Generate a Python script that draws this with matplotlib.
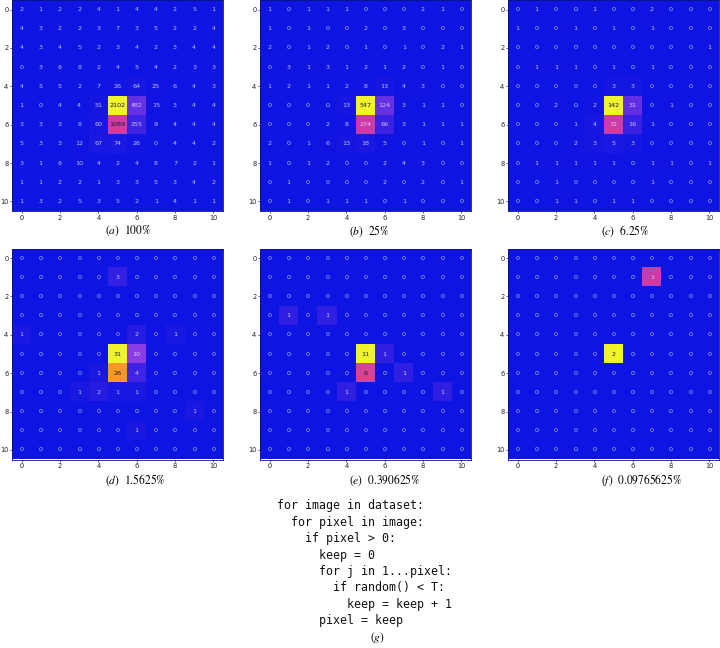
# -*- coding: utf-8 -*-
"""
Seis mapas de calor 11x11 (submuestreo de pixeles con probabilidad T)
mas el pseudocodigo del procedimiento.
"""

import numpy as np
import matplotlib
matplotlib.use("Agg")
import matplotlib.pyplot as plt
from matplotlib.colors import LinearSegmentedColormap

plt.rcParams["mathtext.fontset"] = "stix"

FIG_W, FIG_H, DPI = 7.2, 6.48, 100

# ---- datos ----
grid_a = [
    [2, 1, 2, 2, 4, 1, 4, 4, 2, 5, 1],
    [4, 3, 2, 2, 3, 7, 3, 5, 2, 2, 4],
    [4, 3, 4, 5, 2, 3, 4, 2, 3, 4, 4],
    [0, 3, 6, 8, 2, 4, 5, 4, 2, 3, 3],
    [4, 5, 5, 2, 7, 26, 64, 25, 6, 4, 3],
    [1, 0, 4, 4, 51, 2102, 482, 15, 3, 4, 4],
    [3, 3, 3, 8, 60, 1089, 255, 9, 4, 4, 4],
    [5, 3, 3, 12, 67, 74, 26, 0, 4, 4, 2],
    [3, 1, 6, 10, 4, 2, 4, 8, 7, 2, 1],
    [1, 1, 2, 2, 1, 3, 3, 5, 3, 4, 2],
    [1, 3, 2, 5, 3, 5, 2, 1, 4, 1, 1],
]
grid_b = [
    [1, 0, 1, 1, 1, 0, 0, 0, 2, 1, 0],
    [1, 0, 1, 0, 0, 2, 0, 3, 0, 0, 0],
    [2, 0, 1, 2, 0, 1, 0, 1, 0, 2, 1],
    [0, 3, 1, 3, 1, 2, 1, 2, 0, 1, 0],
    [1, 2, 1, 1, 2, 8, 13, 4, 3, 0, 0],
    [0, 0, 0, 0, 13, 547, 124, 3, 1, 1, 0],
    [0, 0, 0, 2, 8, 274, 66, 3, 1, 1, 1],
    [2, 0, 1, 6, 13, 18, 5, 0, 1, 0, 1],
    [1, 0, 1, 2, 0, 0, 2, 4, 3, 0, 0],
    [0, 1, 0, 0, 0, 0, 2, 0, 2, 0, 1],
    [0, 1, 0, 1, 1, 1, 0, 1, 0, 0, 0],
]
grid_c = [
    [0, 1, 0, 0, 1, 0, 0, 2, 0, 0, 0],
    [1, 0, 0, 1, 0, 1, 0, 1, 0, 0, 0],
    [0, 0, 0, 0, 0, 0, 0, 0, 0, 0, 1],
    [0, 1, 1, 1, 0, 1, 0, 1, 0, 0, 0],
    [0, 0, 0, 0, 0, 3, 3, 0, 0, 0, 0],
    [0, 0, 2, 0, 2, 142, 31, 0, 1, 0, 0],
    [0, 0, 0, 1, 4, 72, 16, 1, 0, 0, 0],
    [0, 0, 0, 2, 3, 5, 3, 0, 0, 0, 0],
    [0, 1, 1, 1, 1, 1, 0, 1, 1, 0, 1],
    [0, 0, 1, 0, 0, 0, 0, 1, 0, 0, 0],
    [0, 0, 1, 1, 0, 1, 1, 0, 0, 0, 0],
]
grid_d = [
    [0, 0, 0, 0, 0, 0, 0, 0, 0, 0, 0],
    [0, 0, 0, 0, 0, 3, 0, 0, 0, 0, 0],
    [0, 0, 0, 0, 0, 0, 0, 0, 0, 0, 0],
    [0, 0, 0, 0, 0, 0, 0, 0, 0, 0, 0],
    [1, 0, 0, 0, 0, 0, 2, 0, 1, 0, 0],
    [0, 0, 0, 0, 0, 31, 10, 0, 0, 0, 0],
    [0, 0, 0, 0, 1, 26, 4, 0, 0, 0, 0],
    [0, 0, 0, 1, 2, 1, 1, 0, 0, 0, 0],
    [0, 0, 0, 0, 0, 0, 0, 0, 0, 1, 0],
    [0, 0, 0, 0, 0, 0, 1, 0, 0, 0, 0],
    [0, 0, 0, 0, 0, 0, 0, 0, 0, 0, 0],
]
grid_e = [
    [0, 0, 0, 0, 0, 0, 0, 0, 0, 0, 0],
    [0, 0, 0, 0, 0, 0, 0, 0, 0, 0, 0],
    [0, 0, 0, 0, 0, 0, 0, 0, 0, 0, 0],
    [0, 1, 0, 1, 0, 0, 0, 0, 0, 0, 0],
    [0, 0, 0, 0, 0, 0, 0, 0, 0, 0, 0],
    [0, 0, 0, 0, 0, 11, 1, 0, 0, 0, 0],
    [0, 0, 0, 0, 0, 6, 0, 1, 0, 0, 0],
    [0, 0, 0, 0, 1, 0, 0, 0, 0, 1, 0],
    [0, 0, 0, 0, 0, 0, 0, 0, 0, 0, 0],
    [0, 0, 0, 0, 0, 0, 0, 0, 0, 0, 0],
    [0, 0, 0, 0, 0, 0, 0, 0, 0, 0, 0],
]
grid_f = [
    [0, 0, 0, 0, 0, 0, 0, 0, 0, 0, 0],
    [0, 0, 0, 0, 0, 0, 0, 1, 0, 0, 0],
    [0, 0, 0, 0, 0, 0, 0, 0, 0, 0, 0],
    [0, 0, 0, 0, 0, 0, 0, 0, 0, 0, 0],
    [0, 0, 0, 0, 0, 0, 0, 0, 0, 0, 0],
    [0, 0, 0, 0, 0, 2, 0, 0, 0, 0, 0],
    [0, 0, 0, 0, 0, 0, 0, 0, 0, 0, 0],
    [0, 0, 0, 0, 0, 0, 0, 0, 0, 0, 0],
    [0, 0, 0, 0, 0, 0, 0, 0, 0, 0, 0],
    [0, 0, 0, 0, 0, 0, 0, 0, 0, 0, 0],
    [0, 0, 0, 0, 0, 0, 0, 0, 0, 0, 0],
]

panel_letters = ["a", "b", "c", "d", "e", "f"]
panel_pcts = ["100%", "25%", "6.25%", "1.5625%", "0.390625%", "0.09765625%"]
tick_vals = [0, 2, 4, 6, 8, 10]

code_lines = [
    "for image in dataset:",
    "  for pixel in image:",
    "    if pixel > 0:",
    "      keep = 0",
    "      for j in 1...pixel:",
    "        if random() < T:",
    "          keep = keep + 1",
    "      pixel = keep",
]

# ---- estilo ----
CMAP = LinearSegmentedColormap.from_list("azul_mag_amar", [
    (0.00, "#0e14e1"),
    (0.32, "#8a3ce6"),
    (0.52, "#d03ca2"),
    (0.84, "#f89a24"),
    (1.00, "#f0f52a"),
])

# posiciones en pixeles (x izq, y arriba) de cada mapa
PANEL_PX = [(12, 0), (260, 0), (508, 0), (12, 248.5), (260, 248.5), (508, 248.5)]
CELL_PX = 211
CAPTION_X = [105, 349, 601, 105, 349, 601]
CAPTION_Y = [231, 231, 231, 480, 480, 480]


def px_rect(x, y, w, h):
    return [x / 720, 1 - (y + h) / 648, w / 720, h / 648]


def draw_panel(fig, grid, rect):
    data = np.array(grid, dtype=float)
    vmax = data.max()
    ax = fig.add_axes(rect)
    ax.imshow(data, cmap=CMAP, vmin=0, vmax=vmax, interpolation="nearest", aspect="auto")
    for i in range(data.shape[0]):
        for j in range(data.shape[1]):
            v = data[i, j]
            if v / vmax > 0.51:
                ax.text(j, i, f"{int(v)}", ha="center", va="center", fontsize=4.6, color="#1a1a1a")
            else:
                ax.text(j, i, f"{int(v)}", ha="center", va="center", fontsize=4.6,
                        color="white", alpha=0.72)
    ax.set_xticks(tick_vals); ax.set_yticks(tick_vals)
    ax.tick_params(labelsize=4.8, length=1.6, width=0.5, pad=1.0, colors="#222222")
    for s in ax.spines.values():
        s.set_linewidth(0.6); s.set_color("#0a1280")
    return ax


def main():
    fig = plt.figure(figsize=(FIG_W, FIG_H), dpi=DPI)
    grids = [grid_a, grid_b, grid_c, grid_d, grid_e, grid_f]
    for k, g in enumerate(grids):
        x, y = PANEL_PX[k]
        draw_panel(fig, g, px_rect(x, y, CELL_PX, CELL_PX))
        fig.text(CAPTION_X[k] / 720, 1 - CAPTION_Y[k] / 648,
                 rf"$({panel_letters[k]})$  {panel_pcts[k]}",
                 ha="left", va="center", fontsize=8.3, family="STIXGeneral")

    # pseudocodigo
    y0, dy = 506, 16.4
    for n, line in enumerate(code_lines):
        fig.text(277 / 720, 1 - (y0 + n * dy) / 648, line, ha="left", va="center",
                 fontsize=8.4, family="DejaVu Sans Mono", color="#111111")
    fig.text(377 / 720, 1 - 638 / 648, r"$(g)$", ha="center", va="center",
             fontsize=8.3, family="STIXGeneral")

    fig.savefig("out.png", dpi=DPI, facecolor="white")
    plt.close(fig)


if __name__ == "__main__":
    main()
